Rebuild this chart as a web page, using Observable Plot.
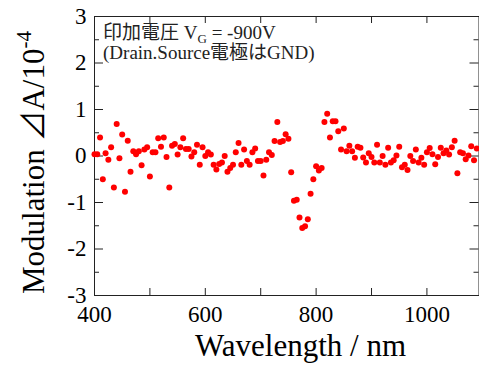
<!DOCTYPE html>
<html><head><meta charset="utf-8">
<script src="https://cdn.jsdelivr.net/npm/d3@7"></script>
<script src="https://cdn.jsdelivr.net/npm/@observablehq/plot@0.6"></script>
<style>
body{margin:0;background:#fff;overflow:hidden}
#chart svg, #chart svg text, #chart svg tspan, #chart svg g { font-family: 'Liberation Serif', 'Noto Sans CJK JP' !important; }
</style>
</head><body><div id="chart"></div>
<script>
const wavelengths = [400,405,410,415,420,425,430,435,440,445,450,455,460,465,470,475,480,485,490,495,500,505,510,515,520,525,530,535,540,545,550,555,560,565,570,575,580,585,590,595,600,605,610,615,620,625,630,635,640,645,650,655,660,665,670,675,680,685,690,695,700,705,710,715,720,725,730,735,740,745,750,755,760,765,770,775,780,785,790,795,800,805,810,815,820,825,830,835,840,845,850,855,860,865,870,875,880,885,890,895,900,905,910,915,920,925,930,935,940,945,950,955,960,965,970,975,980,985,990,995,1000,1005,1010,1015,1020,1025,1030,1035,1040,1045,1050,1055,1060,1065,1070,1075,1080,1085,1090];
const modulation = [
0.04,0.04,0.40,-0.50,0.06,-0.08,0.19,-0.68,0.69,-0.05,
0.46,-0.77,0.33,-0.34,0.10,0.04,0.10,-0.20,0.14,0.19,
-0.44,0.08,0.08,0.38,0.20,0.40,-0.02,-0.68,0.22,0.26,
0.03,0.19,0.38,0.15,0.15,-0.01,0.08,0.24,-0.19,0.19,
0.00,0.08,0.03,-0.19,-0.29,-0.17,-0.14,0.00,-0.34,-0.26,
-0.19,0.08,0.28,-0.19,0.14,-0.11,-0.19,0.08,0.16,-0.11,
-0.11,-0.42,-0.08,0.08,0.02,0.32,0.73,0.30,0.32,0.47,
0.37,-0.35,-0.96,-0.94,-1.32,-1.55,-1.51,-1.36,-0.81,-0.50,
-0.22,-0.31,-0.26,0.73,0.91,0.40,0.75,0.75,0.53,0.14,
0.59,0.10,0.22,0.10,-0.04,0.20,0.18,-0.03,-0.14,0.06,
-0.02,-0.14,0.24,-0.14,0.00,-0.19,0.18,-0.14,-0.09,0.01,
0.20,-0.24,-0.19,-0.30,0.00,-0.11,0.14,-0.14,-0.04,-0.19,
0.08,0.17,0.04,-0.18,-0.02,0.18,0.06,0.12,0.03,0.19,
0.33,-0.37,0.08,0.06,-0.07,0.01,0.21,-0.09,0.16];
const xTickLabels = [400,600,800,1000];
const xTicks = [400,500,600,700,800,900,1000];
const yTickLabels = [-3,-2,-1,0,1,2,3];
const yMinorTicks = [-2.5,-1.5,-0.5,0.5,1.5,2.5];
const xTitle = "Wavelength / nm";
const yTitle = "Modulation ⊿A/10";
const yTitleExp = "-4";
const noteLine1 = ["印加電圧 V", "G", " = -900V"];
const noteLine2 = "(Drain.Source電極はGND)";

const W = 479, H = 365, mL = 94, mT = 16, mB = 70, mR = 0.5;
const innerH = H - mT - mB, innerW = W - mL - mR;
const serif = "'Liberation Serif', 'Noto Sans CJK JP'";
const data = wavelengths.map((w, i) => ({w, v: modulation[i]}));

const plot = Plot.plot({
  width: W, height: H, marginLeft: mL, marginTop: mT, marginBottom: mB, marginRight: mR,
  style: {fontFamily: serif, background: "#fff", color: "#000", overflow: "hidden"},
  x: {domain: [400, 1094]},
  y: {domain: [-3, 3]},
  marks: [
    Plot.tickX(xTicks, {x: d => d, insetTop: innerH - 7, stroke: "#222"}),
    Plot.tickX(xTicks, {x: d => d, insetBottom: innerH - 7, stroke: "#222"}),
    Plot.tickY(yTickLabels, {y: d => d, insetRight: innerW - 9, stroke: "#222"}),
    Plot.tickY(yTickLabels, {y: d => d, insetLeft: innerW - 9, stroke: "#222"}),
    Plot.tickY(yMinorTicks, {y: d => d, insetRight: innerW - 5, stroke: "#222"}),
    Plot.tickY(yMinorTicks, {y: d => d, insetLeft: innerW - 5, stroke: "#222"}),
    Plot.frame({stroke: "#222"}),
    Plot.axisX(xTickLabels, {tickSize: 0, tickPadding: 10, fontSize: 23, label: null, tickFormat: d => String(d)}),
    Plot.axisY(yTickLabels, {tickSize: 0, tickPadding: 8, fontSize: 23, label: null, tickFormat: d => String(d)}),
    Plot.dot(data, {x: "w", y: "v", r: 3, fill: "#ff0000"})
  ]
});

const svg = d3.select(plot);
svg.attr("font-family", serif);
svg.selectAll("text").attr("font-family", serif).style("font-family", serif);

const note = svg.append("g").attr("font-family", serif).attr("text-anchor", "start")
  .attr("font-size", 19).attr("fill", "#222");
const t1 = note.append("text").attr("font-family", serif).style("text-anchor", "start")
  .attr("x", mL + 9).attr("y", mT + 23);
t1.append("tspan").text(noteLine1[0]);
t1.append("tspan").attr("font-size", 13).attr("dy", 4).text(noteLine1[1]);
t1.append("tspan").attr("dy", -4).text(noteLine1[2]);
const t2 = note.append("text").attr("font-family", serif).style("text-anchor", "start")
  .attr("x", mL + 9).attr("y", mT + 43);
t2.append("tspan").text(noteLine2);

const xt = svg.append("text").attr("font-family", serif).style("text-anchor", "middle")
  .attr("font-size", 31).attr("fill", "#000")
  .attr("x", 300.5).attr("y", H - 9);
xt.append("tspan").text(xTitle);

const yt = svg.append("text").attr("font-family", serif)
  .style("text-anchor", "start").attr("font-size", 31).attr("fill", "#000")
  .attr("transform", `translate(44,${mT + innerH - 1}) rotate(-90)`);
yt.append("tspan").text(yTitle);
yt.append("tspan").attr("font-size", 21).attr("dy", -13).text(yTitleExp);

document.getElementById("chart").appendChild(plot);
</script>
</body></html>
